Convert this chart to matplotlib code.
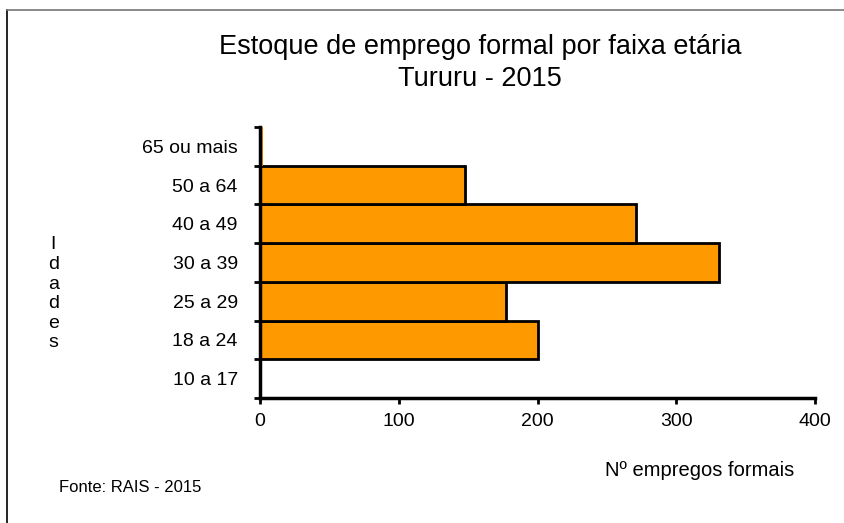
import matplotlib.pyplot as plt
import matplotlib.lines as mlines
import numpy as np

faixas = ['10 a 17', '18 a 24', '25 a 29', '30 a 39', '40 a 49', '50 a 64', '65 ou mais']
empregos = [0, 200, 177, 331, 271, 148, 2]
xticks = [0, 100, 200, 300, 400]

plt.rcParams['font.family'] = ['Liberation Sans', 'DejaVu Sans']

fig = plt.figure(figsize=(8.45, 5.23), dpi=100)
ax = fig.add_axes([0.3077, 0.239, 0.6568, 0.518])

y = np.arange(len(faixas))
ax.barh(y, empregos, height=1.0, color='#FF9900', edgecolor='black', linewidth=2)
# barra quase nula sem contorno
ax.patches[-1].set_linewidth(0)

ax.set_xlim(0, 400)
ax.set_ylim(-0.5, len(faixas) - 0.5)
ax.set_xticks(xticks)
ax.set_xticklabels([str(v) for v in xticks], fontsize=14)
ax.set_yticks(y)
ax.set_yticklabels(faixas, fontsize=14)
ax.tick_params(axis='y', length=0, pad=16)
ax.tick_params(axis='x', length=4, width=2, pad=7)
# ticks nas fronteiras das categorias
ax.set_yticks(np.arange(-0.5, len(faixas)), minor=True)
ax.tick_params(axis='y', which='minor', length=4.5, width=2)

for s in ['top', 'right']:
    ax.spines[s].set_visible(False)
for s in ['left', 'bottom']:
    ax.spines[s].set_linewidth(2.5)

fig.text(0.568, 0.880, 'Estoque de emprego formal por faixa etária\nTururu - 2015',
         ha='center', va='center', fontsize=19.5, linespacing=1.3)
fig.text(0.828, 0.101, 'Nº empregos formais', ha='center', va='center', fontsize=14.5)
fig.text(0.070, 0.067, 'Fonte: RAIS - 2015', ha='left', va='center', fontsize=12)
fig.text(0.063, 0.438, '\n'.join('Idades'), ha='center', va='center', fontsize=14,
         linespacing=1.2)

# moldura do gráfico
fig.add_artist(mlines.Line2D([0.0083, 0.0083], [0, 0.980], color='black', lw=1.2))
fig.add_artist(mlines.Line2D([0.0083, 1.0], [0.980, 0.980], color='#777777', lw=1.2))

fig.savefig('out.png', dpi=100)
